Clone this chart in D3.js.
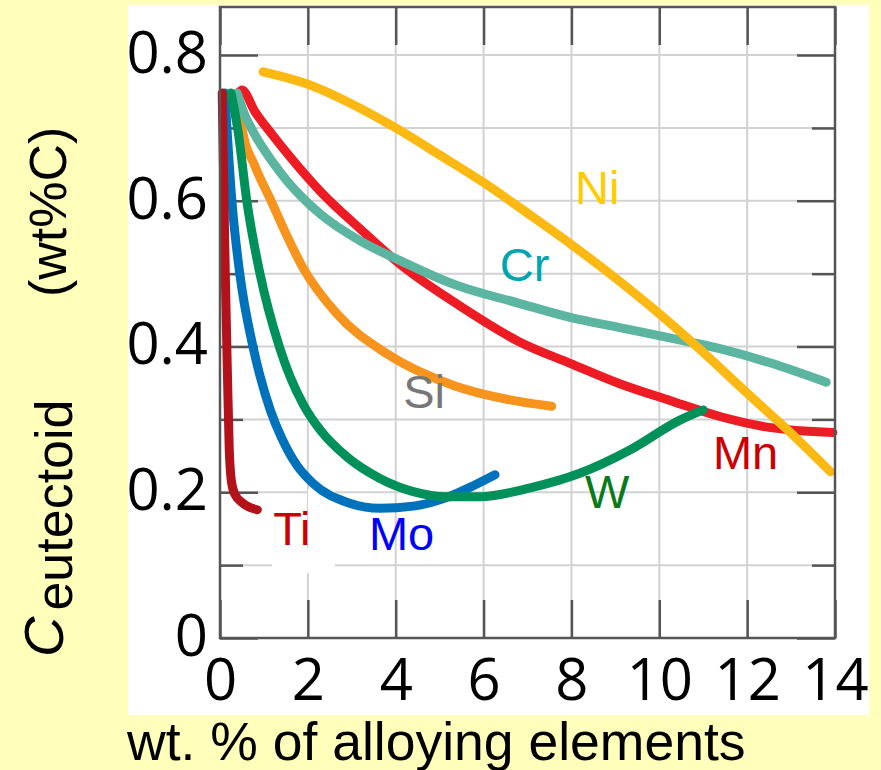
<!DOCTYPE html>
<html>
<head>
<meta charset="utf-8">
<script src="https://cdn.jsdelivr.net/npm/d3@7"></script>
<style>
  body { margin: 0; background: #ffffbb; }
  svg { display: block; }
</style>
</head>
<body>
<svg id="chart"></svg>
<script>
// ticks
const xTicks = [0, 2, 4, 6, 8, 10, 12, 14];
const xGrid = [2, 4, 6, 8, 10, 12];
const yMajor = [0, 0.2, 0.4, 0.6, 0.8];
const yMinor = [0.1, 0.3, 0.5, 0.7];
const yGrid = [0.1, 0.2, 0.3, 0.4, 0.5, 0.6, 0.7, 0.8];

// curves, [wt% element, wt% C]
const ni = [[0.98, 0.777], [2, 0.76], [3, 0.733], [4, 0.7], [5, 0.663], [6, 0.625], [7, 0.583], [8, 0.54],
  [9, 0.494], [10, 0.445], [11, 0.392], [12, 0.336], [13, 0.281], [13.9, 0.228]];
const cr = [[0.39, 0.748], [0.55, 0.72], [0.8, 0.69], [1.2, 0.653], [1.53, 0.627], [2.28, 0.582], [3.19, 0.545],
  [4.1, 0.518], [5.3, 0.486], [6.83, 0.459], [7.97, 0.44], [9.1, 0.426], [10.24, 0.412], [11.38, 0.397],
  [12.5, 0.378], [13.8, 0.351]];
const mn = [[0.41, 0.747], [0.5, 0.752], [0.8, 0.722], [1.2, 0.69], [1.6, 0.66], [2.3, 0.612], [3.2, 0.561],
  [4.1, 0.513], [5.3, 0.462], [6.83, 0.406], [7.97, 0.377], [9.1, 0.349], [10.24, 0.326], [11.38, 0.304],
  [12.5, 0.289], [13.95, 0.282]];
const si = [[0.39, 0.748], [0.5, 0.7], [0.8, 0.647], [1.14, 0.603], [1.5, 0.555], [1.89, 0.508], [2.66, 0.445],
  [3.8, 0.39], [5.3, 0.347], [6.5, 0.328], [7.55, 0.318]];
const w = [[0.25, 0.748], [0.41, 0.696], [0.61, 0.6], [0.91, 0.5], [1.35, 0.4], [1.6, 0.358], [1.9, 0.32],
  [2.3, 0.284], [2.9, 0.248], [3.64, 0.219], [4.4, 0.201], [5.17, 0.194], [5.92, 0.194], [7.06, 0.206],
  [8.19, 0.226], [9.33, 0.258], [10.47, 0.299], [11.0, 0.313]];
const mo = [[0.11, 0.748], [0.27, 0.6], [0.45, 0.5], [0.75, 0.4], [0.9, 0.362], [1.15, 0.312], [1.4, 0.275],
  [1.75, 0.237], [2.12, 0.212], [2.9, 0.186], [3.64, 0.178], [4.4, 0.181], [5.17, 0.193], [5.8, 0.21], [6.26, 0.224]];
const ti = [[0.05, 0.748], [0.08, 0.64], [0.12, 0.5], [0.17, 0.36], [0.21, 0.26], [0.26, 0.215],
  [0.34, 0.197], [0.52, 0.185], [0.85, 0.176]];

// element names and where the name sits (data units)
const names = ["Ni", "Cr", "Si", "Mn", "W", "Ti", "Mo"];
const nameAt = [[8.08, 0.596], [6.37, 0.49], [4.17, 0.316], [11.22, 0.232], [8.31, 0.178], [1.21, 0.127], [3.39, 0.121]];

const width = 881, height = 770;
const svg = d3.select("#chart").attr("width", width).attr("height", height);

const x = d3.scaleLinear().domain([0, 14]).range([220, 835]);
const y = d3.scaleLinear().domain([0, 0.866]).range([638, 7]);

svg.append("rect").attr("width", width).attr("height", height).attr("fill", "#ffffbb");
svg.append("rect").attr("x", 128).attr("y", 5).attr("width", 741).attr("height", 710).attr("fill", "#fff");

// grid
svg.append("g").selectAll("line").data(yGrid).enter().append("line")
  .attr("x1", x(0)).attr("x2", x(14))
  .attr("y1", d => y(d)).attr("y2", d => y(d))
  .attr("stroke", "#d2d2d4").attr("stroke-width", 2);
svg.append("g").selectAll("line").data(xGrid).enter().append("line")
  .attr("x1", d => x(d)).attr("x2", d => x(d))
  .attr("y1", y(0)).attr("y2", y(0.866))
  .attr("stroke", "#d2d2d4").attr("stroke-width", 2);

// white box left behind the Ti label
svg.append("rect").attr("x", 308).attr("y", 489).attr("width", 27).attr("height", 84).attr("fill", "#fff");
svg.append("rect").attr("x", 272).attr("y", 548).attr("width", 63).attr("height", 25).attr("fill", "#fff");

// axes
const axisColor = "#555";
function styleAxis(g) {
  g.select(".domain").remove();
  g.selectAll(".tick line").attr("stroke", axisColor).attr("stroke-width", 2.5);
  g.selectAll("text").attr("fill", "#000")
    .style("font-family", "'Open Sans', sans-serif").style("font-size", "58px");
}
const fmtY = d => d === 0 ? "0" : d3.format(".1f")(d);

svg.append("g").attr("transform", `translate(0,${y(0)})`)
  .call(d3.axisBottom(x).tickValues(xTicks).tickSize(-38).tickPadding(21).tickFormat(d3.format("d")))
  .call(styleAxis);
svg.append("g").attr("transform", `translate(0,${y(0.866)})`)
  .call(d3.axisTop(x).tickValues(xTicks).tickSize(-38).tickFormat(""))
  .call(styleAxis);
svg.append("g").attr("transform", `translate(${x(0)},0)`)
  .call(d3.axisLeft(y).tickValues(yMajor).tickSize(-38).tickPadding(12).tickFormat(fmtY))
  .call(styleAxis)
  .selectAll("text").attr("dy", "0.30em");
svg.append("g").attr("transform", `translate(${x(0)},0)`)
  .call(d3.axisLeft(y).tickValues(yMinor).tickSize(-23).tickFormat(""))
  .call(styleAxis);
svg.append("g").attr("transform", `translate(${x(14)},0)`)
  .call(d3.axisRight(y).tickValues(yMajor).tickSize(-38).tickFormat(""))
  .call(styleAxis);
svg.append("g").attr("transform", `translate(${x(14)},0)`)
  .call(d3.axisRight(y).tickValues(yMinor).tickSize(-23).tickFormat(""))
  .call(styleAxis);

// curves
const line = d3.line().x(d => x(d[0])).y(d => y(d[1])).curve(d3.curveMonotoneX);
const series = [
  { data: si, color: "#f7941d" },
  { data: mn, color: "#ed1c24" },
  { data: cr, color: "#5bb5a0" },
  { data: ni, color: "#fdb913" },
  { data: mo, color: "#0072bc" },
  { data: w, color: "#00915a" },
  { data: ti, color: "#b3121b" }
];
svg.append("g").selectAll("path").data(series).enter().append("path")
  .attr("d", d => line(d.data))
  .attr("fill", "none")
  .attr("stroke", d => d.color)
  .attr("stroke-width", 9)
  .attr("stroke-linecap", "round")
  .attr("stroke-linejoin", "round");

// frame
svg.append("rect").attr("x", x(0)).attr("y", y(0.866))
  .attr("width", x(14) - x(0)).attr("height", y(0) - y(0.866))
  .attr("fill", "none").attr("stroke", axisColor).attr("stroke-width", 2.5);

// element names
const nameColors = ["#ffcc00", "#00a6ad", "#777777", "#cc0000", "#0b7a1c", "#cc0000", "#0000ff"];
svg.append("g").selectAll("text").data(names).enter().append("text")
  .attr("x", (d, i) => x(nameAt[i][0]))
  .attr("y", (d, i) => y(nameAt[i][1]))
  .attr("fill", (d, i) => nameColors[i])
  .style("font-family", "'Liberation Sans', Arial, sans-serif")
  .style("font-size", "47px")
  .text(d => d);

// axis titles
svg.append("text").attr("x", 127).attr("y", 760)
  .style("font-family", "'Liberation Sans', Arial, sans-serif").style("font-size", "53.5px")
  .text("wt. % of alloying elements");

const yt = svg.append("text").attr("transform", "translate(63,657) rotate(-90)")
  .style("font-family", "'Liberation Sans', Arial, sans-serif");
yt.append("tspan").style("font-style", "italic").style("font-size", "56px").text("C");
yt.append("tspan").attr("dy", 9).attr("dx", 6).style("font-size", "52px").text("eutectoid");

svg.append("text").attr("transform", "translate(66,297) rotate(-90)")
  .style("font-family", "'Liberation Sans', Arial, sans-serif").style("font-size", "52px")
  .text("(wt%C)");
</script>
</body>
</html>
